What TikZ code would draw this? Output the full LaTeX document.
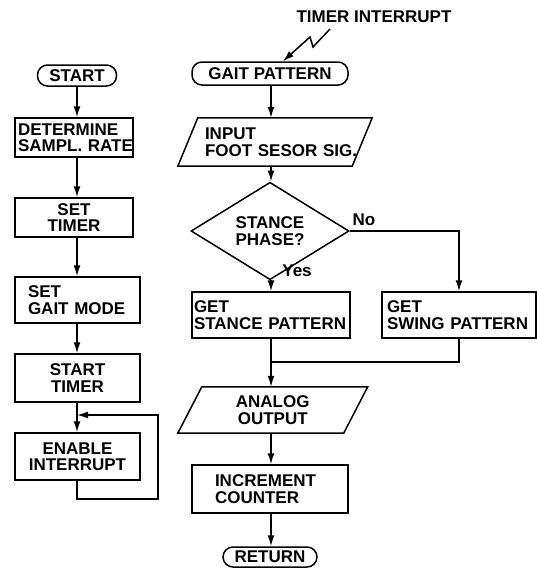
\documentclass[tikz,border=0pt]{standalone}
\usepackage{fontspec}
\setmainfont{Liberation Sans}
\usetikzlibrary{arrows.meta,shapes.geometric}
\begin{document}
\begin{tikzpicture}[x=1pt,y=-1pt,
  every node/.style={font=\bfseries\fontsize{17}{16.5}\selectfont, inner sep=0pt},
  ln/.style={line width=1.5pt},
  arr/.style={line width=1.5pt,-{Latex[length=11pt,width=7pt]}},
  box/.style={draw,line width=1.5pt,rectangle},
  pill/.style={draw,line width=1.5pt,rounded corners=10pt}]
\useasboundingbox (0,0) rectangle (537,573);

\coordinate (cl) at (77,0);
\coordinate (cr) at (271,0);

% left column
\node[pill,minimum width=79pt,minimum height=21pt] (start) at (77,75.5) {START};
\node[box,minimum height=39pt,inner xsep=3pt,text width=112pt,align=left] (det) at (74,137.5) {DETERMINE\\\mbox{SAMPL. RATE}};
\node[box,minimum height=39pt,inner xsep=3pt,text width=112pt,align=center] (settimer) at (74,217.5) {SET\\TIMER};
\node[box,minimum height=46pt,inner xsep=13pt,text width=99pt,align=left] (setgait) at (77.5,300) {SET\\\mbox{GAIT MODE}};
\node[box,minimum height=48pt,inner xsep=3pt,text width=119pt,align=center] (starttimer) at (77.5,378) {START\\TIMER};
\node[box,minimum height=47pt,inner xsep=3pt,text width=119pt,align=center] (enable) at (77.5,456.5) {ENABLE\\INTERRUPT};

\draw[arr] (start.south) -- (cl |- det.north);
\draw[arr] (cl |- det.south) -- (cl |- settimer.north);
\draw[arr] (cl |- settimer.south) -- (cl |- setgait.north);
\draw[arr] (cl |- setgait.south) -- (cl |- starttimer.north);
\draw[arr] (cl |- starttimer.south) -- (cl |- enable.north);
\coordinate (lr) at (158,499);
\coordinate (j) at (77,415);
\draw[arr] (cl |- enable.south) |- (lr) |- (j);

% right column
\node (ti) at (374,17) {\mbox{TIMER INTERRUPT}};
\node[pill,minimum width=156pt,minimum height=23pt] (gait) at (270,73.5) {\mbox{GAIT PATTERN}};
\coordinate (lz) at (330,29);
\draw[arr] (lz) -- (313,47) -- (310,37) -- ([xshift=13pt]gait.north);

\node[minimum width=174pt,minimum height=48pt,inner xsep=17pt,text width=140pt,align=left] (in) at (275,142) {INPUT\\\mbox{FOOT SESOR SIG.}};
\draw[ln] ([xshift=10pt]in.north west) -- ([xshift=10pt]in.north east) -- ([xshift=-10pt]in.south east) -- ([xshift=-10pt]in.south west) -- cycle;

\node[draw,ln,diamond,minimum width=158pt,minimum height=58pt,align=center] (dia) at (270,231) {STANCE\\PHASE?};

\node[box,minimum height=46pt,inner xsep=2pt,text width=154pt,align=left] (stance) at (271,315) {GET\\\mbox{STANCE PATTERN}};
\node[box,minimum height=46pt,inner xsep=5pt,text width=144pt,align=left] (swing) at (459,315) {GET\\\mbox{SWING PATTERN}};

\node[minimum width=165.5pt,minimum height=46pt,text width=150pt,align=center] (analog) at (272.75,410) {ANALOG\\OUTPUT};
\draw[ln] ([xshift=12pt]analog.north west) -- ([xshift=12pt]analog.north east) -- ([xshift=-12pt]analog.south east) -- ([xshift=-12pt]analog.south west) -- cycle;

\node[box,minimum height=48pt,inner xsep=23pt,text width=110pt,align=left] (inc) at (270,489) {INCREMENT\\COUNTER};
\node[pill,minimum width=94pt,minimum height=20pt] (ret) at (270,557) {RETURN};

\draw[arr] (cr |- gait.south) -- (cr |- in.north);
\draw[arr] (cr |- in.south) -- (cr |- dia.north);
\draw[arr] (cr |- dia.south) -- (cr |- stance.north);
\draw[arr] (dia.east) -| (swing.north);
\node (no) at (364,220) {No};
\node (yes) at (297,271) {Yes};
\coordinate (m) at (271,362);
\draw[ln] (swing.south) |- (m);
\draw[arr] (cr |- stance.south) -- (cr |- analog.north);
\draw[arr] (cr |- analog.south) -- (cr |- inc.north);
\draw[arr] (cr |- inc.south) -- (cr |- ret.north);
\end{tikzpicture}
\end{document}
